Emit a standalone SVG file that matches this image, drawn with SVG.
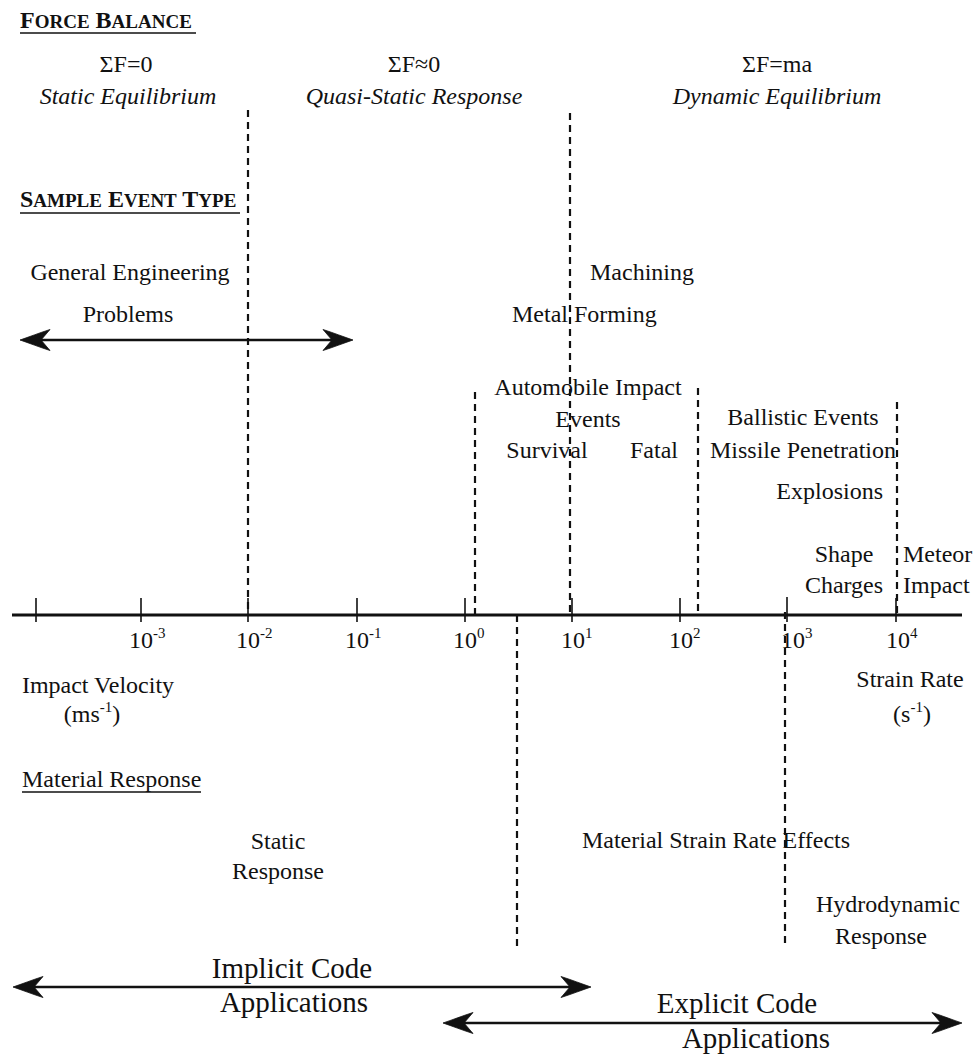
<svg xmlns="http://www.w3.org/2000/svg" width="980" height="1059" viewBox="0 0 980 1059">
<style>
text{font-family:"Liberation Serif","Times New Roman",serif;fill:#111;font-size:24px}
.c{text-anchor:middle}
.e{text-anchor:end}
.i{font-style:italic}
.h{font-weight:bold}
.hs{font-size:19px}
.big{font-size:29px}
.sup{font-size:15px}
.ul{stroke:#111;stroke-width:1.6}
.dash{stroke:#111;stroke-width:2.2;stroke-dasharray:7 5;fill:none}
.axis{stroke:#111;stroke-width:3;fill:none}
.tick{stroke:#111;stroke-width:1.6}
.arr{stroke:#111;stroke-width:2.6;fill:none}
.head{fill:#111;stroke:#111;stroke-width:0.8}
</style>
<defs>
<path id="head" d="M0,0 C-9,-3 -19,-7 -30,-10.5 L-21,0 L-30,10.5 C-19,7 -9,3 0,0 Z"/>
</defs>
<rect width="980" height="1059" fill="#fff"/>

<g id="force-balance-header">
<text x="20" y="28" class="h">F<tspan class="hs">ORCE</tspan> B<tspan class="hs">ALANCE</tspan></text>
<line class="ul" x1="20" y1="33" x2="196" y2="33"/>
</g>

<g id="static-equilibrium">
<text x="126" y="72" class="c">ΣF=0</text>
<text x="128" y="104" class="c i">Static Equilibrium</text>
</g>
<g id="quasi-static">
<text x="414" y="72" class="c">ΣF≈0</text>
<text x="414" y="104" class="c i">Quasi-Static Response</text>
</g>
<g id="dynamic-equilibrium">
<text x="777" y="72" class="c">ΣF=ma</text>
<text x="777" y="104" class="c i">Dynamic Equilibrium</text>
</g>

<g id="sample-event-header">
<text x="20" y="207" class="h">S<tspan class="hs">AMPLE</tspan> E<tspan class="hs">VENT</tspan> T<tspan class="hs">YPE</tspan></text>
<line class="ul" x1="20" y1="213" x2="240" y2="213"/>
</g>

<g id="general-engineering">
<text x="130" y="280" class="c">General Engineering</text>
<text x="128" y="322" class="c">Problems</text>
</g>
<g id="machining"><text x="590" y="280">Machining</text></g>
<g id="metal-forming"><text x="512" y="322">Metal Forming</text></g>

<g id="automobile-impact">
<text x="588" y="395" class="c">Automobile Impact</text>
<text x="588" y="427" class="c">Events</text>
<text x="547" y="458" class="c">Survival</text>
<text x="678" y="458" class="e">Fatal</text>
</g>
<g id="ballistic">
<text x="803" y="425" class="c">Ballistic Events</text>
<text x="803" y="458" class="c">Missile Penetration</text>
<text x="883" y="499" class="e">Explosions</text>
</g>
<g id="shape-charges">
<text x="844" y="562" class="c">Shape</text>
<text x="844" y="593" class="c">Charges</text>
</g>
<g id="meteor-impact">
<text x="903" y="562">Meteor</text>
<text x="903" y="593">Impact</text>
</g>

<g id="axis">
<line class="axis" x1="12" y1="615" x2="962" y2="615"/>
<g class="ticks">
<line class="tick" x1="36" y1="598" x2="36" y2="622"/>
<line class="tick" x1="141" y1="598" x2="141" y2="622"/>
<line class="tick" x1="248" y1="598" x2="248" y2="622"/>
<line class="tick" x1="357" y1="598" x2="357" y2="622"/>
<line class="tick" x1="465" y1="598" x2="465" y2="622"/>
<line class="tick" x1="572" y1="598" x2="572" y2="622"/>
<line class="tick" x1="680" y1="598" x2="680" y2="622"/>
<line class="tick" x1="787" y1="597" x2="787" y2="622"/>
<line class="tick" x1="896" y1="598" x2="896" y2="622"/>
</g>
<text x="129" y="648">10<tspan class="sup" dy="-10">-3</tspan></text>
<text x="236" y="648">10<tspan class="sup" dy="-10">-2</tspan></text>
<text x="345" y="648">10<tspan class="sup" dy="-10">-1</tspan></text>
<text x="453" y="648">10<tspan class="sup" dy="-10">0</tspan></text>
<text x="561" y="648">10<tspan class="sup" dy="-10">1</tspan></text>
<text x="669" y="648">10<tspan class="sup" dy="-10">2</tspan></text>
<text x="781" y="648">10<tspan class="sup" dy="-10">3</tspan></text>
<text x="886" y="648">10<tspan class="sup" dy="-10">4</tspan></text>
</g>

<g id="impact-velocity">
<text x="98" y="693" class="c">Impact Velocity</text>
<text x="92" y="722" class="c">(ms<tspan class="sup" dy="-10">-1</tspan><tspan dy="10">)</tspan></text>
</g>
<g id="strain-rate">
<text x="910" y="687" class="c">Strain Rate</text>
<text x="912" y="722" class="c">(s<tspan class="sup" dy="-10">-1</tspan><tspan dy="10">)</tspan></text>
</g>

<g id="material-response-header">
<text x="22" y="787">Material Response</text>
<line class="ul" x1="22" y1="792" x2="201" y2="792"/>
</g>
<g id="static-response">
<text x="278" y="849" class="c">Static</text>
<text x="278" y="879" class="c">Response</text>
</g>
<g id="strain-rate-effects">
<text x="716" y="848" class="c">Material Strain Rate Effects</text>
</g>
<g id="hydrodynamic">
<text x="888" y="912" class="c">Hydrodynamic</text>
<text x="881" y="944" class="c">Response</text>
</g>

<g id="implicit">
<text x="292" y="978" class="c big">Implicit Code</text>
<text x="294" y="1012" class="c big">Applications</text>
</g>
<g id="explicit">
<text x="737" y="1013" class="c big">Explicit Code</text>
<text x="756" y="1048" class="c big">Applications</text>
</g>

<g id="connectors">
<line class="dash" x1="248" y1="110" x2="248" y2="615"/>
<line class="dash" x1="570" y1="113" x2="570" y2="615"/>
<line class="dash" x1="475" y1="392" x2="475" y2="615"/>
<line class="dash" x1="698" y1="388" x2="698" y2="615"/>
<line class="dash" x1="897" y1="402" x2="897" y2="615"/>
<line class="dash" x1="517" y1="615" x2="517" y2="946"/>
<line class="dash" x1="785" y1="612" x2="785" y2="944"/>

<g id="arrow-general">
<line class="arr" x1="30" y1="340" x2="343" y2="340"/>
<use href="#head" class="head" transform="translate(20,340) rotate(180)"/>
<use href="#head" class="head" transform="translate(353,340)"/>
</g>
<g id="arrow-implicit">
<line class="arr" x1="23" y1="987" x2="581" y2="987"/>
<use href="#head" class="head" transform="translate(13,987) rotate(180)"/>
<use href="#head" class="head" transform="translate(591,987)"/>
</g>
<g id="arrow-explicit">
<line class="arr" x1="453" y1="1023" x2="952" y2="1023"/>
<use href="#head" class="head" transform="translate(443,1023) rotate(180)"/>
<use href="#head" class="head" transform="translate(962,1023)"/>
</g>
</g>
</svg>
